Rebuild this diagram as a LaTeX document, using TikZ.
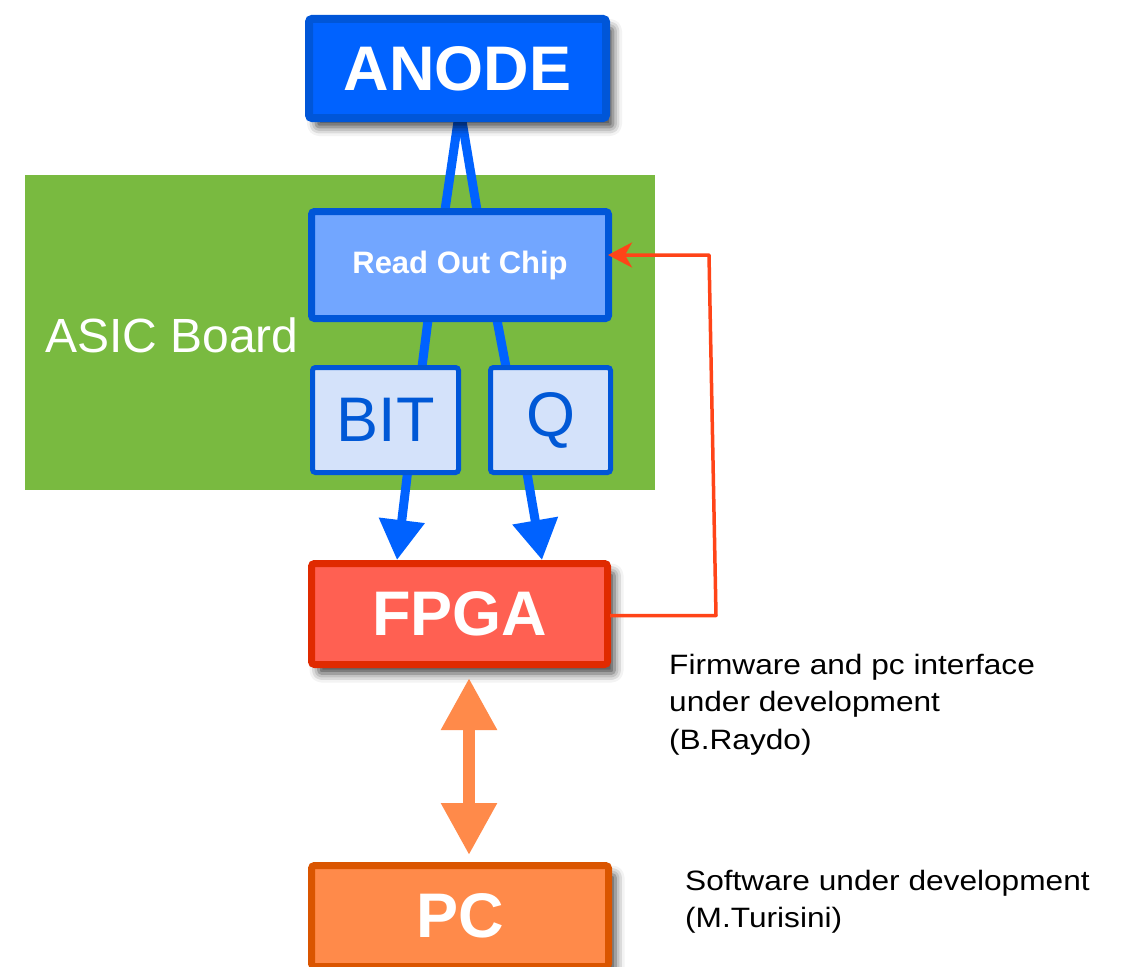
\documentclass[tikz,border=0pt]{standalone}
\usepackage{fontspec}
\setmainfont{Liberation Sans}
\newfontfamily\notefont[FakeStretch=1.13]{Liberation Sans}
\usetikzlibrary{arrows.meta,calc,shadows.blur}
\definecolor{anodefill}{HTML}{0062FF}
\definecolor{bluedraw}{HTML}{0056D8}
\definecolor{rocfill}{HTML}{72A6FF}
\definecolor{sigfill}{HTML}{D4E2FA}
\definecolor{sigtext}{HTML}{0058D6}
\definecolor{fpgafill}{HTML}{FF6052}
\definecolor{fpgadraw}{HTML}{E02A00}
\definecolor{pcfill}{HTML}{FF8A4A}
\definecolor{pcdraw}{HTML}{DA5500}
\definecolor{boardgreen}{HTML}{79BA40}
\definecolor{fbred}{HTML}{FF4418}
\definecolor{linkblue}{HTML}{0062FF}
\pgfdeclarelayer{back}
\pgfdeclarelayer{mid}
\pgfsetlayers{back,mid,main}
\tikzset{
  box/.style={rectangle, rounded corners=3pt, inner sep=0pt, text=white,
    font=\bfseries\fontsize{63}{63}\selectfont},
  shadowed/.style={blur shadow={shadow xshift=7pt, shadow yshift=-9pt,
    shadow blur radius=9pt, shadow opacity=75}},
  anodebox/.style={box, shadowed, fill=anodefill, draw=bluedraw, line width=8pt,
    minimum width=297pt, minimum height=99pt},
  rocbox/.style={box, fill=rocfill, draw=bluedraw, line width=7pt,
    minimum width=297pt, minimum height=107pt,
    font=\bfseries\fontsize{31}{31}\selectfont},
  sigbox/.style={box, fill=sigfill, draw=bluedraw, line width=5pt,
    minimum height=105pt, text=sigtext,
    font=\fontsize{63}{63}\selectfont},
  fpgabox/.style={box, shadowed, fill=fpgafill, draw=fpgadraw, line width=7pt,
    minimum width=296pt, minimum height=101pt},
  pcbox/.style={box, shadowed, fill=pcfill, draw=pcdraw, line width=7pt,
    minimum width=297pt, minimum height=101pt},
  bluelink/.style={draw=linkblue, line width=9pt},
  bluearrow/.style={bluelink, -{Triangle[length=40pt,width=44pt]}},
  pcarrow/.style={draw=pcfill, line width=12pt,
    {Triangle[length=52pt,width=53pt]}-{Triangle[length=52pt,width=53pt]}},
  fbline/.style={draw=fbred, line width=3.5pt, line join=round,
    -{Stealth[length=24pt,width=25pt,inset=7pt]}},
  note/.style={inner sep=0pt, anchor=north west, align=left,
    font=\notefont\fontsize{28}{37.5}\selectfont}
}
\begin{document}
\begin{tikzpicture}[x=1pt,y=-1pt]
\useasboundingbox (0,0) rectangle (1121,966);
\clip (0,0) rectangle (1121,966);

\node[anodebox] (anode) at (457.5,68.5) {ANODE};
\node[rocbox] (roc) at (460,265) {Read Out Chip};
\node[sigbox, minimum width=146pt] (bit) at (385.5,420) {BIT};
\node[sigbox, minimum width=120pt] (q) at (550.5,420) {Q};
\node[fpgabox] (fpga) at (459.5,614) {FPGA};
\node[pcbox] (pc) at (460,916) {PC};

\node[inner sep=0pt, anchor=base west, text=white,
  font=\fontsize{48}{48}\selectfont] (asic) at (45,352) {ASIC Board};

\node[note] (fwnote) at (669,654) {Firmware and pc interface\\under development\\(B.Raydo)};
\node[note] (swnote) at (685,869.5) {Software under development\\(M.Turisini)};

\begin{pgfonlayer}{back}
  \fill[boardgreen] (25,175) rectangle (655,490);
\end{pgfonlayer}

\begin{pgfonlayer}{mid}
  \draw[bluelink] ($(anode.south)+(1,-4)$) -- ($(roc.north)+(-15,2)$);
  \draw[bluelink] ($(anode.south)+(4,-4)$) -- ($(roc.north)+(17,2)$);
  \draw[bluelink] ($(roc.south)+(-32,-2)$) -- ($(bit.north)+(36.5,2)$);
  \draw[bluelink] ($(roc.south)+(37,-2)$) -- ($(q.north)+(-44.5,2)$);
  \draw[bluearrow] ($(bit.south)+(22,-2)$) -- ($(fpga.north)+(-62.5,0)$);
  \draw[bluearrow] ($(q.south)+(-23.5,-2)$) -- ($(fpga.north)+(82.5,0)$);
\end{pgfonlayer}

\draw[pcarrow] ($(fpga.south)+(9.5,10)$) -- ($(pc.north)+(9,-7)$);
\draw[fbline] ($(fpga.east)+(-1,1.5)$) -- ++(106,0)
  -- ($(roc.east)+(97,-10)$) -- ($(roc.east)+(-4,-10)$);
\end{tikzpicture}
\end{document}
